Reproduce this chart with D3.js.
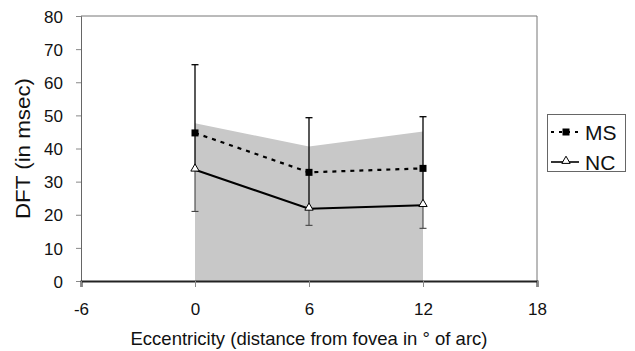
<!DOCTYPE html>
<html>
<head>
<meta charset="utf-8">
<script src="https://d3js.org/d3.v7.min.js"></script>
<style>
  body { margin: 0; background: #fff; }
  svg { display: block; font-family: "Liberation Sans", Arial, sans-serif; }
</style>
</head>
<body>
<script>
// eccentricity (deg of arc) and DFT values in msec
var ecc = [0, 6, 12];
var msMean = [44.7, 32.8, 34.0];
var ncMean = [33.6, 21.8, 22.9];
var msSD = [20.6, 16.5, 15.6];   // drawn upward from MS
var ncSD = [12.6, 5.0, 7.0];     // drawn downward from NC
var bandTop = [47.6, 40.6, 45.1]; // shaded region
var xTicks = [-6, 0, 6, 12, 18];
var yTicks = [0, 10, 20, 30, 40, 50, 60, 70, 80];
var seriesNames = ["MS", "NC"];

var W = 635, H = 351;
var pLeft = 81, pRight = 537, pTop = 16, pBottom = 281;

var svg = d3.select("body").append("svg")
  .attr("width", W).attr("height", H);

var x = d3.scaleLinear().domain([-6, 18]).range([pLeft, pRight]);
var y = d3.scaleLinear().domain([0, 80]).range([pBottom, pTop]);

var rows = ecc.map(function (e, i) {
  return { x: e, ms: msMean[i], nc: ncMean[i], msSD: msSD[i], ncSD: ncSD[i], band: bandTop[i] };
});

// shaded band
svg.append("path")
  .datum(rows)
  .attr("fill", "#c8c8c8")
  .attr("d", d3.area().x(function (d) { return x(d.x); })
    .y0(y(0)).y1(function (d) { return y(d.band); }));

// frame (top + right)
svg.append("path")
  .attr("d", "M" + pLeft + "," + pTop + "H" + pRight + "V" + pBottom)
  .attr("fill", "none").attr("stroke", "#777").attr("stroke-width", 1);

// axes
var plain = function (d) { return String(d); };
var yAxis = svg.append("g")
  .attr("transform", "translate(" + pLeft + ",0)")
  .call(d3.axisLeft(y).tickValues(yTicks).tickFormat(plain).tickSize(5).tickPadding(13));
var xAxis = svg.append("g")
  .attr("transform", "translate(0," + pBottom + ")")
  .call(d3.axisBottom(x).tickValues(xTicks).tickFormat(plain).tickSize(6).tickPadding(16));

yAxis.select(".domain").attr("stroke", "#666");
xAxis.select(".domain").attr("stroke", "#222").attr("stroke-width", 2);
svg.selectAll(".tick line").attr("stroke", "#888");
svg.selectAll(".tick text")
  .attr("font-family", "Liberation Sans, Arial, sans-serif")
  .attr("font-size", 17).attr("fill", "#111");
yAxis.selectAll(".tick text").attr("dy", "0.36em");

// error bars
var eb = svg.append("g").selectAll("g").data(rows).join("g");
eb.append("line")
  .attr("x1", function (d) { return x(d.x); }).attr("x2", function (d) { return x(d.x); })
  .attr("y1", function (d) { return y(d.ms + d.msSD); })
  .attr("y2", function (d) { return y(d.nc); })
  .attr("stroke", "#000").attr("stroke-width", 1.3);
eb.append("line")
  .attr("x1", function (d) { return x(d.x); }).attr("x2", function (d) { return x(d.x); })
  .attr("y1", function (d) { return y(d.nc); })
  .attr("y2", function (d) { return y(d.nc - d.ncSD); })
  .attr("stroke", "#444").attr("stroke-width", 1.1);
eb.append("line")
  .attr("x1", function (d) { return x(d.x) - 3.5; }).attr("x2", function (d) { return x(d.x) + 3.5; })
  .attr("y1", function (d) { return y(d.ms + d.msSD); })
  .attr("y2", function (d) { return y(d.ms + d.msSD); })
  .attr("stroke", "#000").attr("stroke-width", 1.3);
eb.append("line")
  .attr("x1", function (d) { return x(d.x) - 3.5; }).attr("x2", function (d) { return x(d.x) + 3.5; })
  .attr("y1", function (d) { return y(d.nc - d.ncSD); })
  .attr("y2", function (d) { return y(d.nc - d.ncSD); })
  .attr("stroke", "#444").attr("stroke-width", 1.1);

// lines
var lineMS = d3.line().x(function (d) { return x(d.x); }).y(function (d) { return y(d.ms); });
var lineNC = d3.line().x(function (d) { return x(d.x); }).y(function (d) { return y(d.nc); });
svg.append("path").datum(rows).attr("d", lineMS)
  .attr("fill", "none").attr("stroke", "#000").attr("stroke-width", 2.2)
  .attr("stroke-dasharray", "4,5");
svg.append("path").datum(rows).attr("d", lineNC)
  .attr("fill", "none").attr("stroke", "#000").attr("stroke-width", 2);

// markers
var sq = d3.symbol().type(d3.symbolSquare).size(49);
var tri = d3.symbol().type(d3.symbolTriangle).size(30);
svg.append("g").selectAll("path").data(rows).join("path")
  .attr("transform", function (d) { return "translate(" + x(d.x) + "," + y(d.ms) + ")"; })
  .attr("d", sq).attr("fill", "#000");
svg.append("g").selectAll("path").data(rows).join("path")
  .attr("transform", function (d) { return "translate(" + x(d.x) + "," + (y(d.nc) - 1) + ")"; })
  .attr("d", tri).attr("fill", "#fff").attr("stroke", "#000").attr("stroke-width", 1);

// axis titles
svg.append("text")
  .attr("x", (pLeft + pRight) / 2).attr("y", 345)
  .attr("text-anchor", "middle").attr("font-size", 18.5).attr("fill", "#111")
  .text("Eccentricity (distance from fovea in \u00b0 of arc)");
svg.append("text")
  .attr("transform", "translate(30," + ((pTop + pBottom) / 2) + ") rotate(-90)")
  .attr("text-anchor", "middle").attr("font-size", 20).attr("fill", "#111")
  .attr("textLength", 141).attr("lengthAdjust", "spacingAndGlyphs")
  .text("DFT (in msec)");

// legend
var lg = svg.append("g");
lg.append("rect")
  .attr("x", 547.5).attr("y", 114.5).attr("width", 78).attr("height", 57)
  .attr("fill", "#fff").attr("stroke", "#666").attr("stroke-width", 1);
var items = lg.selectAll("g").data(seriesNames).join("g")
  .attr("transform", function (d, i) { return "translate(0," + (132 + i * 30) + ")"; });
items.append("line")
  .attr("x1", 551).attr("x2", 579).attr("y1", 0).attr("y2", 0)
  .attr("stroke", "#000").attr("stroke-width", function (d, i) { return i === 0 ? 2.2 : 1.6; })
  .attr("stroke-dasharray", function (d, i) { return i === 0 ? "3,5" : null; });
items.append("path")
  .attr("transform", function (d, i) { return "translate(566," + (i === 0 ? 0 : -1) + ")"; })
  .attr("d", function (d, i) { return i === 0 ? sq() : tri(); })
  .attr("fill", function (d, i) { return i === 0 ? "#000" : "#fff"; })
  .attr("stroke", "#000").attr("stroke-width", function (d, i) { return i === 0 ? 0 : 1; });
items.append("text")
  .attr("x", 585).attr("y", 0).attr("dy", "0.36em")
  .attr("font-size", 21).attr("fill", "#111")
  .text(function (d) { return d; });
</script>
</body>
</html>
